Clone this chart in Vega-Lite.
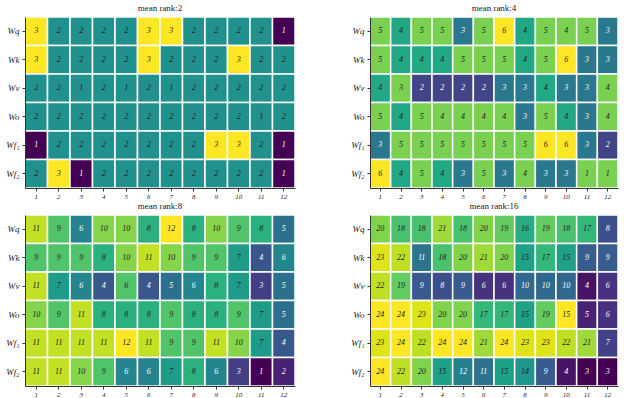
{
"$schema":"https://vega.github.io/schema/vega-lite/v6.json",
"padding":{"left":5,"top":4,"right":5,"bottom":0},
"spacing":3,
"config":{"view":{"stroke":null},
 "font":"Liberation Serif",
 "title":{"font":"Liberation Serif","fontSize":9,"fontWeight":"normal","color":"#222","offset":3},
 "axis":{"labelFont":"Liberation Serif","labelFontStyle":"italic","labelFontSize":7,"labelColor":"#222","tickSize":3,"tickColor":"#333","domainColor":"#333","grid":false,"title":null},
 "axisY":{"labelFontSize":9,"minExtent":20,"maxExtent":20,"labelPadding":3},
 "axisX":{"labelAngle":0,"labelPadding":1}},
"datasets":{
"p1":[
{"r":"Wq","x":1,"v":3,"c":3},{"r":"Wq","x":2,"v":2,"c":2},{"r":"Wq","x":3,"v":2,"c":2},{"r":"Wq","x":4,"v":2,"c":2},{"r":"Wq","x":5,"v":2,"c":2},{"r":"Wq","x":6,"v":3,"c":3},{"r":"Wq","x":7,"v":3,"c":3},{"r":"Wq","x":8,"v":2,"c":2},{"r":"Wq","x":9,"v":2,"c":2},{"r":"Wq","x":10,"v":2,"c":2},{"r":"Wq","x":11,"v":2,"c":2},{"r":"Wq","x":12,"v":1,"c":1},
{"r":"Wk","x":1,"v":3,"c":3},{"r":"Wk","x":2,"v":2,"c":2},{"r":"Wk","x":3,"v":2,"c":2},{"r":"Wk","x":4,"v":2,"c":2},{"r":"Wk","x":5,"v":2,"c":2},{"r":"Wk","x":6,"v":3,"c":3},{"r":"Wk","x":7,"v":2,"c":2},{"r":"Wk","x":8,"v":2,"c":2},{"r":"Wk","x":9,"v":2,"c":2},{"r":"Wk","x":10,"v":3,"c":3},{"r":"Wk","x":11,"v":2,"c":2},{"r":"Wk","x":12,"v":2,"c":2},
{"r":"Wv","x":1,"v":2,"c":2},{"r":"Wv","x":2,"v":2,"c":2},{"r":"Wv","x":3,"v":1,"c":2},{"r":"Wv","x":4,"v":2,"c":2},{"r":"Wv","x":5,"v":1,"c":2},{"r":"Wv","x":6,"v":2,"c":2},{"r":"Wv","x":7,"v":1,"c":2},{"r":"Wv","x":8,"v":2,"c":2},{"r":"Wv","x":9,"v":2,"c":2},{"r":"Wv","x":10,"v":2,"c":2},{"r":"Wv","x":11,"v":2,"c":2},{"r":"Wv","x":12,"v":2,"c":2},
{"r":"Wo","x":1,"v":2,"c":2},{"r":"Wo","x":2,"v":2,"c":2},{"r":"Wo","x":3,"v":2,"c":2},{"r":"Wo","x":4,"v":2,"c":2},{"r":"Wo","x":5,"v":2,"c":2},{"r":"Wo","x":6,"v":2,"c":2},{"r":"Wo","x":7,"v":2,"c":2},{"r":"Wo","x":8,"v":2,"c":2},{"r":"Wo","x":9,"v":2,"c":2},{"r":"Wo","x":10,"v":2,"c":2},{"r":"Wo","x":11,"v":1,"c":2},{"r":"Wo","x":12,"v":2,"c":2},
{"r":"Wf₁","x":1,"v":1,"c":1},{"r":"Wf₁","x":2,"v":2,"c":2},{"r":"Wf₁","x":3,"v":2,"c":2},{"r":"Wf₁","x":4,"v":2,"c":2},{"r":"Wf₁","x":5,"v":2,"c":2},{"r":"Wf₁","x":6,"v":2,"c":2},{"r":"Wf₁","x":7,"v":2,"c":2},{"r":"Wf₁","x":8,"v":2,"c":2},{"r":"Wf₁","x":9,"v":3,"c":3},{"r":"Wf₁","x":10,"v":3,"c":3},{"r":"Wf₁","x":11,"v":2,"c":2},{"r":"Wf₁","x":12,"v":1,"c":1},
{"r":"Wf₂","x":1,"v":2,"c":2},{"r":"Wf₂","x":2,"v":3,"c":3},{"r":"Wf₂","x":3,"v":1,"c":1},{"r":"Wf₂","x":4,"v":2,"c":2},{"r":"Wf₂","x":5,"v":2,"c":2},{"r":"Wf₂","x":6,"v":2,"c":2},{"r":"Wf₂","x":7,"v":2,"c":2},{"r":"Wf₂","x":8,"v":2,"c":2},{"r":"Wf₂","x":9,"v":2,"c":2},{"r":"Wf₂","x":10,"v":2,"c":2},{"r":"Wf₂","x":11,"v":2,"c":2},{"r":"Wf₂","x":12,"v":1,"c":1}],
"p2":[
{"r":"Wq","x":1,"v":5,"c":5},{"r":"Wq","x":2,"v":4,"c":4},{"r":"Wq","x":3,"v":5,"c":5},{"r":"Wq","x":4,"v":5,"c":5},{"r":"Wq","x":5,"v":3,"c":3},{"r":"Wq","x":6,"v":5,"c":5},{"r":"Wq","x":7,"v":6,"c":6},{"r":"Wq","x":8,"v":4,"c":4},{"r":"Wq","x":9,"v":5,"c":5},{"r":"Wq","x":10,"v":4,"c":5},{"r":"Wq","x":11,"v":5,"c":5},{"r":"Wq","x":12,"v":3,"c":3},
{"r":"Wk","x":1,"v":5,"c":5},{"r":"Wk","x":2,"v":4,"c":4},{"r":"Wk","x":3,"v":4,"c":4},{"r":"Wk","x":4,"v":4,"c":4},{"r":"Wk","x":5,"v":5,"c":5},{"r":"Wk","x":6,"v":5,"c":5},{"r":"Wk","x":7,"v":5,"c":5},{"r":"Wk","x":8,"v":4,"c":4},{"r":"Wk","x":9,"v":5,"c":5},{"r":"Wk","x":10,"v":6,"c":6},{"r":"Wk","x":11,"v":3,"c":3},{"r":"Wk","x":12,"v":3,"c":3},
{"r":"Wv","x":1,"v":4,"c":4},{"r":"Wv","x":2,"v":3,"c":5},{"r":"Wv","x":3,"v":2,"c":2},{"r":"Wv","x":4,"v":2,"c":2},{"r":"Wv","x":5,"v":2,"c":2},{"r":"Wv","x":6,"v":2,"c":2},{"r":"Wv","x":7,"v":3,"c":3},{"r":"Wv","x":8,"v":3,"c":3},{"r":"Wv","x":9,"v":4,"c":4},{"r":"Wv","x":10,"v":3,"c":3},{"r":"Wv","x":11,"v":3,"c":3},{"r":"Wv","x":12,"v":4,"c":5},
{"r":"Wo","x":1,"v":5,"c":5},{"r":"Wo","x":2,"v":4,"c":4},{"r":"Wo","x":3,"v":5,"c":5},{"r":"Wo","x":4,"v":4,"c":5},{"r":"Wo","x":5,"v":4,"c":5},{"r":"Wo","x":6,"v":4,"c":5},{"r":"Wo","x":7,"v":4,"c":5},{"r":"Wo","x":8,"v":3,"c":3},{"r":"Wo","x":9,"v":5,"c":5},{"r":"Wo","x":10,"v":4,"c":4},{"r":"Wo","x":11,"v":3,"c":3},{"r":"Wo","x":12,"v":4,"c":5},
{"r":"Wf₁","x":1,"v":3,"c":3},{"r":"Wf₁","x":2,"v":5,"c":5},{"r":"Wf₁","x":3,"v":5,"c":5},{"r":"Wf₁","x":4,"v":5,"c":5},{"r":"Wf₁","x":5,"v":5,"c":5},{"r":"Wf₁","x":6,"v":5,"c":5},{"r":"Wf₁","x":7,"v":5,"c":5},{"r":"Wf₁","x":8,"v":5,"c":5},{"r":"Wf₁","x":9,"v":6,"c":6},{"r":"Wf₁","x":10,"v":6,"c":6},{"r":"Wf₁","x":11,"v":3,"c":3},{"r":"Wf₁","x":12,"v":2,"c":2},
{"r":"Wf₂","x":1,"v":6,"c":6},{"r":"Wf₂","x":2,"v":4,"c":4},{"r":"Wf₂","x":3,"v":5,"c":5},{"r":"Wf₂","x":4,"v":4,"c":4},{"r":"Wf₂","x":5,"v":3,"c":3},{"r":"Wf₂","x":6,"v":5,"c":5},{"r":"Wf₂","x":7,"v":3,"c":3},{"r":"Wf₂","x":8,"v":4,"c":5},{"r":"Wf₂","x":9,"v":3,"c":3},{"r":"Wf₂","x":10,"v":3,"c":3},{"r":"Wf₂","x":11,"v":1,"c":5},{"r":"Wf₂","x":12,"v":1,"c":5}],
"p3":[
{"r":"Wq","x":1,"v":11,"c":11},{"r":"Wq","x":2,"v":9,"c":9},{"r":"Wq","x":3,"v":6,"c":6},{"r":"Wq","x":4,"v":10,"c":10},{"r":"Wq","x":5,"v":10,"c":10},{"r":"Wq","x":6,"v":8,"c":8},{"r":"Wq","x":7,"v":12,"c":12},{"r":"Wq","x":8,"v":8,"c":8},{"r":"Wq","x":9,"v":10,"c":10},{"r":"Wq","x":10,"v":9,"c":9},{"r":"Wq","x":11,"v":8,"c":8},{"r":"Wq","x":12,"v":5,"c":5},
{"r":"Wk","x":1,"v":9,"c":9},{"r":"Wk","x":2,"v":9,"c":9},{"r":"Wk","x":3,"v":9,"c":9},{"r":"Wk","x":4,"v":8,"c":8},{"r":"Wk","x":5,"v":10,"c":10},{"r":"Wk","x":6,"v":11,"c":11},{"r":"Wk","x":7,"v":10,"c":10},{"r":"Wk","x":8,"v":9,"c":9},{"r":"Wk","x":9,"v":9,"c":9},{"r":"Wk","x":10,"v":7,"c":7},{"r":"Wk","x":11,"v":4,"c":4},{"r":"Wk","x":12,"v":6,"c":6},
{"r":"Wv","x":1,"v":11,"c":11},{"r":"Wv","x":2,"v":7,"c":7},{"r":"Wv","x":3,"v":6,"c":6},{"r":"Wv","x":4,"v":4,"c":4},{"r":"Wv","x":5,"v":6,"c":9},{"r":"Wv","x":6,"v":4,"c":4},{"r":"Wv","x":7,"v":5,"c":5},{"r":"Wv","x":8,"v":6,"c":6},{"r":"Wv","x":9,"v":8,"c":8},{"r":"Wv","x":10,"v":7,"c":7},{"r":"Wv","x":11,"v":3,"c":3},{"r":"Wv","x":12,"v":5,"c":5},
{"r":"Wo","x":1,"v":10,"c":10},{"r":"Wo","x":2,"v":9,"c":9},{"r":"Wo","x":3,"v":11,"c":11},{"r":"Wo","x":4,"v":8,"c":8},{"r":"Wo","x":5,"v":8,"c":8},{"r":"Wo","x":6,"v":8,"c":8},{"r":"Wo","x":7,"v":9,"c":9},{"r":"Wo","x":8,"v":8,"c":8},{"r":"Wo","x":9,"v":8,"c":8},{"r":"Wo","x":10,"v":9,"c":9},{"r":"Wo","x":11,"v":7,"c":7},{"r":"Wo","x":12,"v":5,"c":5},
{"r":"Wf₁","x":1,"v":11,"c":11},{"r":"Wf₁","x":2,"v":11,"c":11},{"r":"Wf₁","x":3,"v":11,"c":11},{"r":"Wf₁","x":4,"v":11,"c":11},{"r":"Wf₁","x":5,"v":12,"c":12},{"r":"Wf₁","x":6,"v":11,"c":11},{"r":"Wf₁","x":7,"v":9,"c":9},{"r":"Wf₁","x":8,"v":9,"c":9},{"r":"Wf₁","x":9,"v":11,"c":11},{"r":"Wf₁","x":10,"v":10,"c":10},{"r":"Wf₁","x":11,"v":7,"c":7},{"r":"Wf₁","x":12,"v":4,"c":4},
{"r":"Wf₂","x":1,"v":11,"c":11},{"r":"Wf₂","x":2,"v":11,"c":11},{"r":"Wf₂","x":3,"v":10,"c":10},{"r":"Wf₂","x":4,"v":9,"c":9},{"r":"Wf₂","x":5,"v":6,"c":6},{"r":"Wf₂","x":6,"v":6,"c":6},{"r":"Wf₂","x":7,"v":7,"c":7},{"r":"Wf₂","x":8,"v":8,"c":8},{"r":"Wf₂","x":9,"v":6,"c":6},{"r":"Wf₂","x":10,"v":3,"c":3},{"r":"Wf₂","x":11,"v":1,"c":1},{"r":"Wf₂","x":12,"v":2,"c":2}],
"p4":[
{"r":"Wq","x":1,"v":20,"c":20},{"r":"Wq","x":2,"v":18,"c":18},{"r":"Wq","x":3,"v":18,"c":18},{"r":"Wq","x":4,"v":21,"c":21},{"r":"Wq","x":5,"v":18,"c":18},{"r":"Wq","x":6,"v":20,"c":20},{"r":"Wq","x":7,"v":19,"c":19},{"r":"Wq","x":8,"v":16,"c":16},{"r":"Wq","x":9,"v":19,"c":19},{"r":"Wq","x":10,"v":18,"c":18},{"r":"Wq","x":11,"v":17,"c":17},{"r":"Wq","x":12,"v":8,"c":8},
{"r":"Wk","x":1,"v":23,"c":23},{"r":"Wk","x":2,"v":22,"c":22},{"r":"Wk","x":3,"v":11,"c":11},{"r":"Wk","x":4,"v":18,"c":18},{"r":"Wk","x":5,"v":20,"c":20},{"r":"Wk","x":6,"v":21,"c":21},{"r":"Wk","x":7,"v":20,"c":20},{"r":"Wk","x":8,"v":15,"c":15},{"r":"Wk","x":9,"v":17,"c":17},{"r":"Wk","x":10,"v":15,"c":15},{"r":"Wk","x":11,"v":9,"c":9},{"r":"Wk","x":12,"v":9,"c":9},
{"r":"Wv","x":1,"v":22,"c":22},{"r":"Wv","x":2,"v":19,"c":19},{"r":"Wv","x":3,"v":9,"c":9},{"r":"Wv","x":4,"v":8,"c":8},{"r":"Wv","x":5,"v":9,"c":9},{"r":"Wv","x":6,"v":6,"c":6},{"r":"Wv","x":7,"v":6,"c":6},{"r":"Wv","x":8,"v":10,"c":10},{"r":"Wv","x":9,"v":10,"c":10},{"r":"Wv","x":10,"v":10,"c":10},{"r":"Wv","x":11,"v":4,"c":4},{"r":"Wv","x":12,"v":6,"c":6},
{"r":"Wo","x":1,"v":24,"c":24},{"r":"Wo","x":2,"v":24,"c":24},{"r":"Wo","x":3,"v":23,"c":23},{"r":"Wo","x":4,"v":20,"c":20},{"r":"Wo","x":5,"v":20,"c":20},{"r":"Wo","x":6,"v":17,"c":17},{"r":"Wo","x":7,"v":17,"c":17},{"r":"Wo","x":8,"v":15,"c":15},{"r":"Wo","x":9,"v":19,"c":19},{"r":"Wo","x":10,"v":15,"c":24},{"r":"Wo","x":11,"v":5,"c":5},{"r":"Wo","x":12,"v":6,"c":6},
{"r":"Wf₁","x":1,"v":23,"c":23},{"r":"Wf₁","x":2,"v":24,"c":24},{"r":"Wf₁","x":3,"v":22,"c":22},{"r":"Wf₁","x":4,"v":24,"c":24},{"r":"Wf₁","x":5,"v":24,"c":24},{"r":"Wf₁","x":6,"v":21,"c":21},{"r":"Wf₁","x":7,"v":24,"c":24},{"r":"Wf₁","x":8,"v":23,"c":23},{"r":"Wf₁","x":9,"v":23,"c":23},{"r":"Wf₁","x":10,"v":22,"c":22},{"r":"Wf₁","x":11,"v":21,"c":21},{"r":"Wf₁","x":12,"v":7,"c":7},
{"r":"Wf₂","x":1,"v":24,"c":24},{"r":"Wf₂","x":2,"v":22,"c":22},{"r":"Wf₂","x":3,"v":20,"c":20},{"r":"Wf₂","x":4,"v":15,"c":15},{"r":"Wf₂","x":5,"v":12,"c":12},{"r":"Wf₂","x":6,"v":11,"c":11},{"r":"Wf₂","x":7,"v":15,"c":15},{"r":"Wf₂","x":8,"v":14,"c":14},{"r":"Wf₂","x":9,"v":9,"c":9},{"r":"Wf₂","x":10,"v":4,"c":4},{"r":"Wf₂","x":11,"v":3,"c":3},{"r":"Wf₂","x":12,"v":3,"c":3}]
},
"resolve":{"scale":{"color":"independent"}},
"vconcat":[
{"hconcat":[
 {"width":270,"height":171,"title":"mean rank:2","data":{"name":"p1"},
  "encoding":{"x":{"field":"x","type":"ordinal","axis":{"title":null}},"y":{"field":"r","type":"ordinal","sort":["Wq","Wk","Wv","Wo","Wf₁","Wf₂"],"axis":{"title":null}}},
  "layer":[
   {"mark":{"type":"rect","stroke":"white","strokeWidth":1.5},"encoding":{"color":{"field":"c","type":"quantitative","scale":{"scheme":"viridis","domain":[1,3]},"legend":null}}},
   {"mark":{"type":"text","fontStyle":"italic","font":"Liberation Serif","fontSize":8},"encoding":{"text":{"field":"v","type":"nominal"},"color":{"condition":{"test":"datum.c < 2","value":"white"},"value":"#222"}}}
  ]},
 {"width":248,"height":171,"title":"mean rank:4","data":{"name":"p2"},
  "encoding":{"x":{"field":"x","type":"ordinal","axis":{"title":null}},"y":{"field":"r","type":"ordinal","sort":["Wq","Wk","Wv","Wo","Wf₁","Wf₂"],"axis":{"title":null}}},
  "layer":[
   {"mark":{"type":"rect","stroke":"white","strokeWidth":1.5},"encoding":{"color":{"field":"c","type":"quantitative","scale":{"scheme":"viridis","domain":[1,6]},"legend":null}}},
   {"mark":{"type":"text","fontStyle":"italic","font":"Liberation Serif","fontSize":8},"encoding":{"text":{"field":"v","type":"nominal"},"color":{"condition":{"test":"datum.c < 3.5","value":"white"},"value":"#222"}}}
  ]}
 ],"spacing":54,"resolve":{"scale":{"color":"independent"}}},
{"hconcat":[
 {"width":270,"height":171,"title":"mean rank:8","data":{"name":"p3"},
  "encoding":{"x":{"field":"x","type":"ordinal","axis":{"title":null}},"y":{"field":"r","type":"ordinal","sort":["Wq","Wk","Wv","Wo","Wf₁","Wf₂"],"axis":{"title":null}}},
  "layer":[
   {"mark":{"type":"rect","stroke":"white","strokeWidth":1.5},"encoding":{"color":{"field":"c","type":"quantitative","scale":{"scheme":"viridis","domain":[1,12]},"legend":null}}},
   {"mark":{"type":"text","fontStyle":"italic","font":"Liberation Serif","fontSize":8},"encoding":{"text":{"field":"v","type":"nominal"},"color":{"condition":{"test":"datum.c < 6.5","value":"white"},"value":"#222"}}}
  ]},
 {"width":248,"height":171,"title":"mean rank:16","data":{"name":"p4"},
  "encoding":{"x":{"field":"x","type":"ordinal","axis":{"title":null}},"y":{"field":"r","type":"ordinal","sort":["Wq","Wk","Wv","Wo","Wf₁","Wf₂"],"axis":{"title":null}}},
  "layer":[
   {"mark":{"type":"rect","stroke":"white","strokeWidth":1.5},"encoding":{"color":{"field":"c","type":"quantitative","scale":{"scheme":"viridis","domain":[3,24]},"legend":null}}},
   {"mark":{"type":"text","fontStyle":"italic","font":"Liberation Serif","fontSize":8},"encoding":{"text":{"field":"v","type":"nominal"},"color":{"condition":{"test":"datum.c < 13.5","value":"white"},"value":"#222"}}}
  ]}
 ],"spacing":54,"resolve":{"scale":{"color":"independent"}}}
]
}
